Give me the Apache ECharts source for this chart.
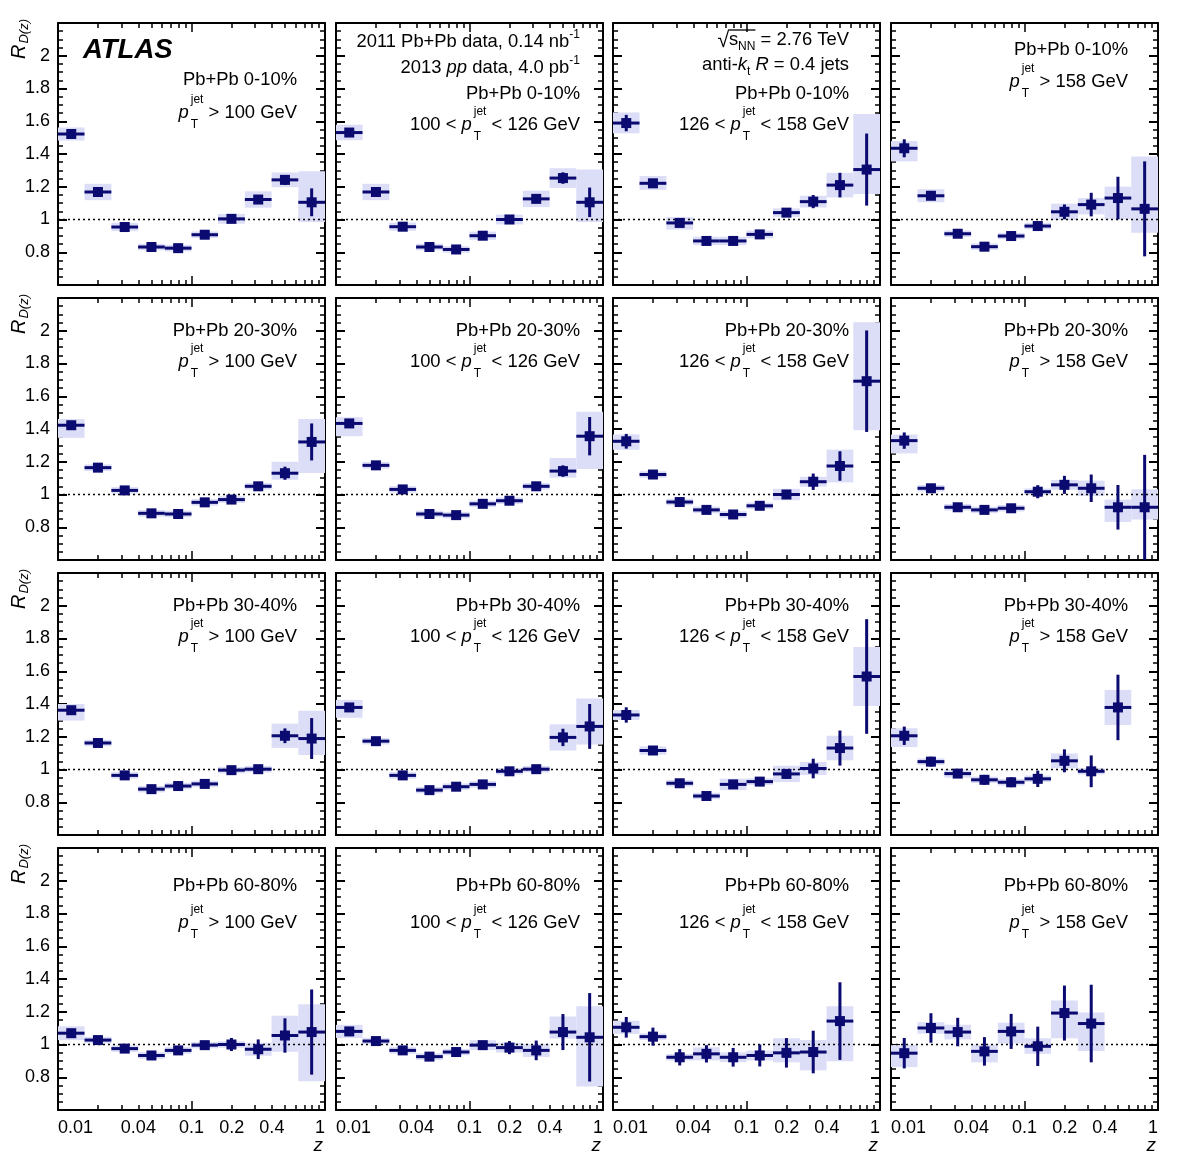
<!DOCTYPE html>
<html>
<head>
<meta charset="utf-8">
<title>ATLAS R_D(z) Pb+Pb / pp</title>
<script src="https://cdn.jsdelivr.net/npm/echarts@6/dist/echarts.min.js"></script>
<style>
  html, body { margin: 0; padding: 0; background: #fff; }
  #chart { width: 1182px; height: 1169px; }
</style>
</head>
<body>
<div id="chart"></div>
<script>
// z bin edges, 5 bins per decade
const zEdges = [0.01, 0.0158, 0.0251, 0.0398, 0.0631, 0.1, 0.158, 0.251, 0.398, 0.631, 1.0];

// each point: [R_D(z), stat err, sys down, sys up]
// Pb+Pb 0-10%
const c010_pt100 = [
  [1.522, 0.01, 0.04, 0.04], [1.168, 0.01, 0.05, 0.05], [0.954, 0.01, 0.025, 0.025],
  [0.832, 0.01, 0.02, 0.02], [0.825, 0.01, 0.02, 0.02], [0.907, 0.01, 0.02, 0.02],
  [1.004, 0.01, 0.03, 0.03], [1.122, 0.012, 0.05, 0.05], [1.242, 0.03, 0.045, 0.045],
  [1.105, 0.085, 0.12, 0.19]
];
const c010_pt100_126 = [
  [1.531, 0.01, 0.047, 0.048], [1.168, 0.01, 0.05, 0.05], [0.956, 0.01, 0.025, 0.025],
  [0.832, 0.01, 0.02, 0.02], [0.817, 0.01, 0.02, 0.02], [0.901, 0.01, 0.025, 0.025],
  [1.0, 0.01, 0.03, 0.03], [1.126, 0.012, 0.05, 0.05], [1.253, 0.035, 0.06, 0.06],
  [1.105, 0.09, 0.12, 0.2]
];
const c010_pt126_158 = [
  [1.589, 0.05, 0.063, 0.065], [1.221, 0.012, 0.04, 0.045], [0.979, 0.015, 0.04, 0.036],
  [0.869, 0.01, 0.026, 0.026], [0.869, 0.01, 0.026, 0.026], [0.909, 0.01, 0.024, 0.024],
  [1.042, 0.015, 0.026, 0.026], [1.109, 0.04, 0.036, 0.036], [1.21, 0.075, 0.075, 0.075],
  [1.305, 0.22, 0.15, 0.34]
];
const c010_pt158 = [
  [1.435, 0.055, 0.08, 0.044], [1.145, 0.012, 0.04, 0.04], [0.913, 0.01, 0.02, 0.02],
  [0.834, 0.01, 0.02, 0.02], [0.899, 0.01, 0.02, 0.02], [0.96, 0.015, 0.02, 0.02],
  [1.047, 0.045, 0.05, 0.05], [1.091, 0.072, 0.06, 0.04], [1.131, 0.13, 0.13, 0.07],
  [1.065, 0.29, 0.146, 0.32]
];
// Pb+Pb 20-30%
const c2030_pt100 = [
  [1.423, 0.01, 0.077, 0.038], [1.164, 0.01, 0.02, 0.02], [1.025, 0.01, 0.02, 0.02],
  [0.885, 0.01, 0.02, 0.02], [0.881, 0.01, 0.02, 0.02], [0.952, 0.01, 0.02, 0.02],
  [0.969, 0.01, 0.02, 0.02], [1.05, 0.012, 0.02, 0.02], [1.13, 0.04, 0.04, 0.07],
  [1.321, 0.113, 0.19, 0.14]
];
const c2030_pt100_126 = [
  [1.434, 0.01, 0.078, 0.038], [1.178, 0.01, 0.02, 0.02], [1.031, 0.01, 0.02, 0.02],
  [0.881, 0.01, 0.02, 0.02], [0.874, 0.01, 0.02, 0.02], [0.943, 0.01, 0.02, 0.02],
  [0.962, 0.01, 0.02, 0.02], [1.05, 0.012, 0.02, 0.02], [1.143, 0.035, 0.04, 0.08],
  [1.356, 0.117, 0.2, 0.15]
];
const c2030_pt126_158 = [
  [1.325, 0.045, 0.052, 0.042], [1.122, 0.01, 0.02, 0.02], [0.954, 0.01, 0.02, 0.02],
  [0.906, 0.01, 0.02, 0.02], [0.878, 0.01, 0.02, 0.02], [0.931, 0.01, 0.02, 0.02],
  [1.0, 0.015, 0.035, 0.035], [1.078, 0.05, 0.03, 0.03], [1.174, 0.09, 0.1, 0.1],
  [1.692, 0.31, 0.3, 0.36]
];
const c2030_pt158 = [
  [1.329, 0.05, 0.078, 0.037], [1.038, 0.015, 0.02, 0.02], [0.922, 0.01, 0.02, 0.02],
  [0.906, 0.01, 0.02, 0.02], [0.916, 0.012, 0.02, 0.02], [1.017, 0.04, 0.02, 0.02],
  [1.059, 0.055, 0.03, 0.03], [1.038, 0.084, 0.047, 0.047], [0.922, 0.136, 0.09, 0.047],
  [0.922, 0.32, 0.075, 0.11]
];
// Pb+Pb 30-40%
const c3040_pt100 = [
  [1.362, 0.01, 0.063, 0.038], [1.162, 0.01, 0.02, 0.02], [0.964, 0.01, 0.02, 0.02],
  [0.88, 0.01, 0.02, 0.02], [0.899, 0.01, 0.02, 0.02], [0.912, 0.01, 0.02, 0.02],
  [0.996, 0.01, 0.02, 0.02], [1.002, 0.01, 0.02, 0.02], [1.206, 0.045, 0.074, 0.074],
  [1.189, 0.125, 0.1, 0.17]
];
const c3040_pt100_126 = [
  [1.379, 0.01, 0.063, 0.046], [1.173, 0.01, 0.02, 0.02], [0.964, 0.01, 0.02, 0.02],
  [0.874, 0.01, 0.02, 0.02], [0.895, 0.01, 0.02, 0.02], [0.909, 0.01, 0.02, 0.02],
  [0.989, 0.01, 0.02, 0.02], [1.002, 0.01, 0.02, 0.02], [1.196, 0.053, 0.08, 0.08],
  [1.263, 0.137, 0.11, 0.17]
];
const c3040_pt126_158 = [
  [1.333, 0.047, 0.03, 0.03], [1.116, 0.012, 0.025, 0.025], [0.916, 0.01, 0.02, 0.02],
  [0.838, 0.01, 0.02, 0.02], [0.909, 0.012, 0.035, 0.035], [0.926, 0.012, 0.02, 0.02],
  [0.973, 0.03, 0.05, 0.05], [1.006, 0.06, 0.04, 0.04], [1.131, 0.107, 0.075, 0.075],
  [1.568, 0.35, 0.18, 0.18]
];
const c3040_pt158 = [
  [1.206, 0.056, 0.069, 0.046], [1.048, 0.03, 0.02, 0.02], [0.975, 0.025, 0.025, 0.025],
  [0.937, 0.03, 0.02, 0.02], [0.922, 0.03, 0.02, 0.02], [0.943, 0.05, 0.02, 0.02],
  [1.053, 0.07, 0.045, 0.045], [0.989, 0.097, 0.02, 0.02], [1.379, 0.2, 0.107, 0.107]
];
// Pb+Pb 60-80%
const c6080_pt100 = [
  [1.069, 0.02, 0.042, 0.042], [1.027, 0.01, 0.02, 0.02], [0.975, 0.01, 0.02, 0.02],
  [0.933, 0.01, 0.02, 0.02], [0.964, 0.01, 0.02, 0.02], [0.996, 0.015, 0.02, 0.02],
  [1.0, 0.04, 0.02, 0.02], [0.971, 0.06, 0.04, 0.04], [1.055, 0.105, 0.1, 0.12],
  [1.076, 0.26, 0.3, 0.17]
];
const c6080_pt100_126 = [
  [1.08, 0.02, 0.04, 0.04], [1.021, 0.01, 0.02, 0.02], [0.964, 0.01, 0.02, 0.02],
  [0.926, 0.01, 0.02, 0.02], [0.954, 0.01, 0.02, 0.02], [0.996, 0.015, 0.03, 0.03],
  [0.981, 0.04, 0.03, 0.03], [0.964, 0.06, 0.04, 0.04], [1.076, 0.11, 0.04, 0.095],
  [1.044, 0.27, 0.3, 0.19]
];
const c6080_pt126_158 = [
  [1.105, 0.063, 0.04, 0.04], [1.048, 0.055, 0.02, 0.02], [0.922, 0.05, 0.02, 0.02],
  [0.943, 0.053, 0.04, 0.04], [0.922, 0.057, 0.03, 0.03], [0.933, 0.067, 0.03, 0.03],
  [0.949, 0.09, 0.058, 0.089], [0.954, 0.13, 0.112, 0.073], [1.143, 0.237, 0.246, 0.09]
];
const c6080_pt158 = [
  [0.947, 0.093, 0.085, 0.05], [1.101, 0.09, 0.035, 0.035], [1.076, 0.087, 0.045, 0.045],
  [0.958, 0.087, 0.067, 0.042], [1.08, 0.107, 0.074, 0.053], [0.989, 0.12, 0.046, 0.049],
  [1.192, 0.168, 0.154, 0.077], [1.128, 0.237, 0.168, 0.068]
];

const panelData = [
  [c010_pt100, c010_pt100_126, c010_pt126_158, c010_pt158],
  [c2030_pt100, c2030_pt100_126, c2030_pt126_158, c2030_pt158],
  [c3040_pt100, c3040_pt100_126, c3040_pt126_158, c3040_pt158],
  [c6080_pt100, c6080_pt100_126, c6080_pt126_158, c6080_pt158]
];
const centralityLabels = ['Pb+Pb 0-10%', 'Pb+Pb 20-30%', 'Pb+Pb 30-40%', 'Pb+Pb 60-80%'];
// jet pT selection: text before and after p_T^jet
const ptLabels = [['', ' > 100 GeV'], ['100 < ', ' < 126 GeV'], ['126 < ', ' < 158 GeV'], ['', ' > 158 GeV']];

const zMinorTicks = [0.02, 0.03, 0.04, 0.05, 0.06, 0.07, 0.08, 0.09, 0.2, 0.3, 0.4, 0.5, 0.6, 0.7, 0.8, 0.9];
const zMajorTicks = [0.1];
const zTickLabels = [0.01, 0.04, 0.1, 0.2, 0.4, 1];

// layout
const FAM = '"Liberation Sans", Arial, Helvetica, sans-serif';
const NAVY = '#0a0a70';
const BAND = '#dcddf7';
const colLeft = [58, 336, 613, 891];
const rowTop = [23, 298, 573, 848];
const PW = 267, PH = 262;
const yMin = 0.6, yMax = 2.2;
const textRight = [28, 23, 31, 30];
const MAIN = 18.4;

const mctx = document.createElement('canvas').getContext('2d');
function fnt(size, it, bold) {
  return (it ? 'italic ' : '') + (bold ? 'bold ' : '') + size + 'px ' + FAM;
}
function tw(t, f) { mctx.font = f; return mctx.measureText(t).width; }
function txt(x, y, t, f, align) {
  return {
    type: 'text', x: x, y: y, silent: true,
    style: { text: t, font: f, fill: '#000', textAlign: align || 'left', textVerticalAlign: 'middle' }
  };
}
// pieces: {t, it, size, dy, dx, hold}; right-aligned at `right`, centred on cy
function placeLine(pieces, right, cy) {
  let x = 0, held = 0;
  const items = [];
  pieces.forEach(p => {
    const f = fnt(p.size || MAIN, p.it);
    const w = tw(p.t, f);
    const dx = p.dx || 0;
    items.push({ t: p.t, f: f, x: x + dx, y: cy + (p.dy || 0), w: w });
    if (p.hold) held = Math.max(held, w + dx);
    else { x += Math.max(w + dx, held); held = 0; }
  });
  const shift = right - x;
  items.forEach(it => { it.x += shift; });
  return { els: items.map(it => txt(it.x, it.y, it.t, it.f)), items: items };
}
const PT = [{ t: 'p', it: true }, { t: 'jet', size: 12, dy: -13, dx: 2, hold: true }, { t: 'T', size: 12, dy: 12, dx: 2 }];

const clampY = v => Math.max(yMin, Math.min(yMax, v));

const grids = [], xAxes = [], yAxes = [], series = [], graphics = [];
const tickStyle = { color: '#000', width: 1.5 };

for (let r = 0; r < 4; r++) {
  for (let c = 0; c < 4; c++) {
    const gi = r * 4 + c;
    const L = colLeft[c], T = rowTop[r], R = L + PW;
    grids.push({ left: L, top: T, width: PW, height: PH, containLabel: false, outerBoundsMode: 'none' });

    const baseX = {
      type: 'log', logBase: 10, gridIndex: gi, min: 0.01, max: 1,
      splitLine: { show: false },
      axisLine: { show: true, lineStyle: { color: '#000', width: 2 } },
      axisLabel: { show: false }
    };
    const minorT = { show: true, inside: true, length: 5, customValues: zMinorTicks, lineStyle: tickStyle };
    const majorT = { show: true, inside: true, length: 9, customValues: zMajorTicks, lineStyle: tickStyle };
    xAxes.push(Object.assign({}, baseX, {
      position: 'bottom', axisTick: minorT,
      axisLabel: r === 3 ? {
        show: true, customValues: zTickLabels, fontSize: 18, fontFamily: FAM, color: '#000', margin: 9,
        alignMinLabel: 'left', alignMaxLabel: 'right',
        formatter: v => String(+(+v).toPrecision(2))
      } : { show: false }
    }));
    xAxes.push(Object.assign({}, baseX, { position: 'bottom', axisLine: { show: false }, axisTick: majorT }));
    xAxes.push(Object.assign({}, baseX, { position: 'top', axisTick: minorT }));
    xAxes.push(Object.assign({}, baseX, { position: 'top', axisLine: { show: false }, axisTick: majorT }));

    const baseY = {
      type: 'value', gridIndex: gi, min: yMin, max: yMax, interval: 0.2,
      splitLine: { show: false },
      axisLine: { show: true, lineStyle: { color: '#000', width: 2 } },
      axisTick: { show: true, inside: true, length: 9, lineStyle: { color: '#000', width: 2 } },
      minorTick: { show: true, splitNumber: 4, length: 5, lineStyle: tickStyle },
      minorSplitLine: { show: false }
    };
    yAxes.push(Object.assign({}, baseY, {
      position: 'left',
      axisLabel: c === 0 ? {
        show: true, fontSize: 18, fontFamily: FAM, color: '#000', margin: 8,
        showMinLabel: false, showMaxLabel: false
      } : { show: false }
    }));
    yAxes.push(Object.assign({}, baseY, { position: 'right', axisLabel: { show: false } }));

    const pts = panelData[r][c];
    const sysData = pts.map((p, k) => [zEdges[k], zEdges[k + 1], p[0] - p[2], p[0] + p[3]]);
    const ptData = pts.map((p, k) => [zEdges[k], zEdges[k + 1], Math.sqrt(zEdges[k] * zEdges[k + 1]), p[0], p[1]]);
    const xi = gi * 4, yi = gi * 2;

    series.push({
      type: 'custom', xAxisIndex: xi, yAxisIndex: yi, z: 1, silent: true,
      data: sysData, encode: { x: [0, 1], y: [2, 3] },
      renderItem: (params, api) => {
        const p0 = api.coord([api.value(0), clampY(api.value(3))]);
        const p1 = api.coord([api.value(1), clampY(api.value(2))]);
        return { type: 'rect', shape: { x: p0[0], y: p0[1], width: p1[0] - p0[0], height: p1[1] - p0[1] }, style: { fill: BAND } };
      }
    });
    series.push({
      type: 'line', xAxisIndex: xi, yAxisIndex: yi, z: 2, silent: true, symbol: 'none',
      data: [[0.01, 1], [1, 1]],
      lineStyle: { color: '#000', width: 1.5, type: [2, 3] }
    });
    series.push({
      type: 'custom', xAxisIndex: xi, yAxisIndex: yi, z: 3, silent: true,
      data: ptData, encode: { x: [0, 1, 2], y: 3 },
      renderItem: (params, api) => {
        const v = api.value(3), s = api.value(4), zc = api.value(2);
        const a = api.coord([api.value(0), v]), b = api.coord([api.value(1), v]);
        const t = api.coord([zc, clampY(v + s)]), u = api.coord([zc, clampY(v - s)]);
        const m = api.coord([zc, v]);
        const st = { stroke: NAVY, lineWidth: 3 };
        return {
          type: 'group', children: [
            { type: 'line', shape: { x1: a[0], y1: a[1], x2: b[0], y2: b[1] }, style: st },
            { type: 'line', shape: { x1: t[0], y1: t[1], x2: u[0], y2: u[1] }, style: st },
            { type: 'rect', shape: { x: m[0] - 5, y: m[1] - 5, width: 10, height: 10 }, style: { fill: NAVY } }
          ]
        };
      }
    });

    // panel text
    const right = R - textRight[c];
    let yCent, yPt;
    if (r === 0) {
      yCent = [T + 57, T + 71, T + 71, T + 27][c];
      yPt = [T + 90, T + 102, T + 102, T + 59][c];
    } else if (r === 3) { yCent = T + 38; yPt = T + 75; }
    else { yCent = T + 33; yPt = T + 64; }
    graphics.push(...placeLine([{ t: centralityLabels[r] }], right, yCent).els);
    const ptPieces = [];
    if (ptLabels[c][0]) ptPieces.push({ t: ptLabels[c][0] });
    ptPieces.push(...PT, { t: ptLabels[c][1] });
    graphics.push(...placeLine(ptPieces, right, yPt).els);

    if (r === 0 && c === 0) graphics.push(txt(83, T + 27, 'ATLAS', fnt(27.5, true, true)));
    if (r === 0 && c === 1) {
      graphics.push(...placeLine([{ t: '2011 Pb+Pb data, 0.14 nb' }, { t: '-1', size: 12, dy: -7 }], right, T + 19).els);
      graphics.push(...placeLine([{ t: '2013 ' }, { t: 'pp', it: true }, { t: ' data, 4.0 pb' }, { t: '-1', size: 12, dy: -7 }], right, T + 45).els);
    }
    if (r === 0 && c === 2) {
      const sq = placeLine([{ t: '\u221A', size: 21, dy: 1 }, { t: 's' }, { t: 'NN', size: 12, dy: 7 }, { t: ' = 2.76 TeV' }], right, T + 17);
      graphics.push(...sq.els);
      const it = sq.items;
      const oy = T + 17 - 10;
      graphics.push({ type: 'line', silent: true, shape: { x1: it[0].x + it[0].w - 1, y1: oy, x2: it[2].x + it[2].w, y2: oy }, style: { stroke: '#000', lineWidth: 1.3 } });
      graphics.push(...placeLine([{ t: 'anti-' }, { t: 'k', it: true }, { t: 't', size: 12, dy: 7 }, { t: ' ' }, { t: 'R', it: true }, { t: ' = 0.4 jets' }], right, T + 42).els);
    }

    // axis titles
    if (c === 0) {
      const fR = fnt(20, true);
      graphics.push({
        type: 'group', x: 19, y: T + 36, rotation: Math.PI / 2, silent: true,
        children: [
          txt(0, 0, 'R', fR),
          txt(tw('R', fR) + 1, 5, 'D(z)', fnt(13, true))
        ]
      });
    }
    if (r === 3) graphics.push(txt(R - 2, 1146, 'z', fnt(19, true), 'right'));
  }
}

const chart = echarts.init(document.getElementById('chart'), null, { renderer: 'canvas' });
chart.setOption({
  animation: false,
  backgroundColor: '#fff',
  grid: grids,
  xAxis: xAxes,
  yAxis: yAxes,
  series: series,
  graphic: { elements: graphics }
});
</script>
</body>
</html>
